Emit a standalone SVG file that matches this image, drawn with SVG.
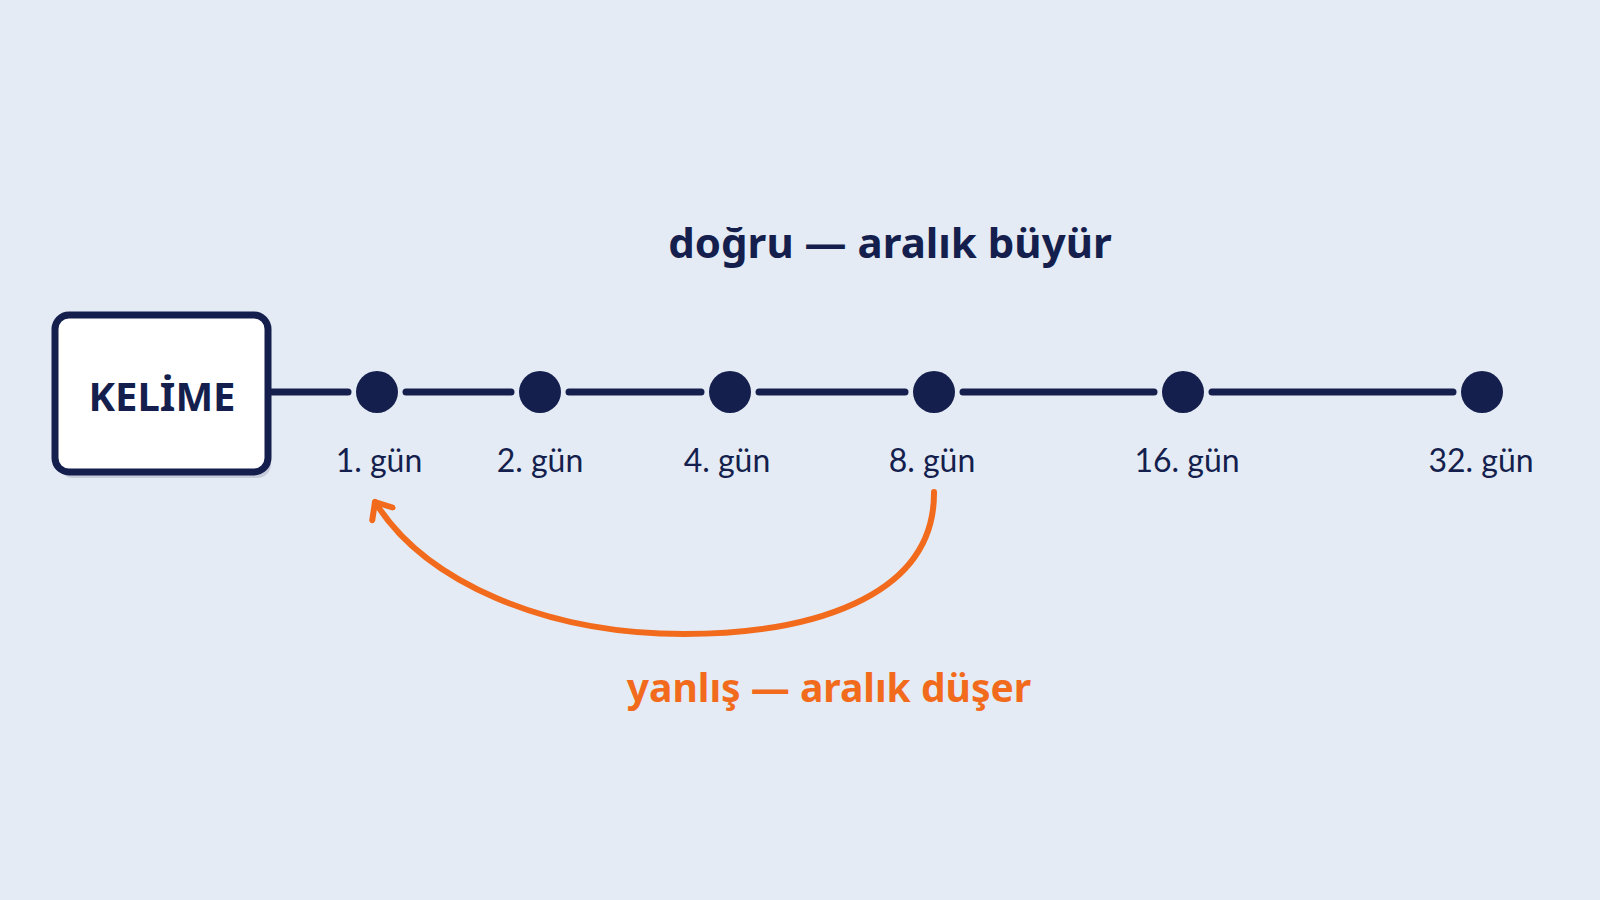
<svg xmlns="http://www.w3.org/2000/svg" width="1600" height="900" viewBox="0 0 1600 900">
<defs>
<style>
.lbl{font-family:Lato,"Noto Sans","Liberation Sans",sans-serif;font-size:32px;fill:#141f4d;text-anchor:middle}
.title{font-family:"Noto Sans","Liberation Sans",sans-serif;font-size:39px;font-weight:bold;text-anchor:middle}
.dot{fill:#141f4d}
.seg{stroke:#141f4d;stroke-width:7;stroke-linecap:round;fill:none}
</style>
<marker id="arr" viewBox="0 0 28 30" refX="17" refY="15" markerWidth="28" markerHeight="30" markerUnits="userSpaceOnUse" orient="auto">
<path d="M3,3 L17,15 L3,27" fill="none" stroke="#f26b1d" stroke-width="6" stroke-linecap="round" stroke-linejoin="round"/>
</marker>
</defs>
<rect width="1600" height="900" fill="#e4ebf5"/>
<g id="connectors">
<line class="seg" x1="272" y1="392" x2="348" y2="392"/>
<line class="seg" x1="406" y1="392" x2="511" y2="392"/>
<line class="seg" x1="569" y1="392" x2="701" y2="392"/>
<line class="seg" x1="759" y1="392" x2="905" y2="392"/>
<line class="seg" x1="963" y1="392" x2="1154" y2="392"/>
<line class="seg" x1="1212" y1="392" x2="1453" y2="392"/>
<path d="M934,492 C935,600 805,634 684,634 C545,634 425,582 375,502" fill="none" stroke="#f26b1d" stroke-width="6" stroke-linecap="round" marker-end="url(#arr)"/>
</g>
<g id="kelime">
<rect x="59" y="321" width="212" height="157" rx="14" fill="#c6ccd9"/>
<rect x="55" y="315" width="213" height="157" rx="14" fill="#ffffff" stroke="#141f4d" stroke-width="7"/>
<text x="162" y="411" class="title" style="font-size:40px;fill:#141f4d">KELİME</text>
</g>
<g id="d1"><circle class="dot" cx="377" cy="392" r="21"/><text class="lbl" x="379" y="472">1. gün</text></g>
<g id="d2"><circle class="dot" cx="540" cy="392" r="21"/><text class="lbl" x="540" y="472">2. gün</text></g>
<g id="d4"><circle class="dot" cx="730" cy="392" r="21"/><text class="lbl" x="727" y="472">4. gün</text></g>
<g id="d8"><circle class="dot" cx="934" cy="392" r="21"/><text class="lbl" x="932" y="472">8. gün</text></g>
<g id="d16"><circle class="dot" cx="1183" cy="392" r="21"/><text class="lbl" x="1187" y="472">16. gün</text></g>
<g id="d32"><circle class="dot" cx="1482" cy="392" r="21"/><text class="lbl" x="1481" y="472">32. gün</text></g>
<g id="titles">
<text class="title" x="890" y="258" fill="#141f4d" style="font-size:42px">doğru — aralık büyür</text>
<text class="title" x="829" y="702" fill="#f26b1d">yanlış — aralık düşer</text>
</g>
</svg>
